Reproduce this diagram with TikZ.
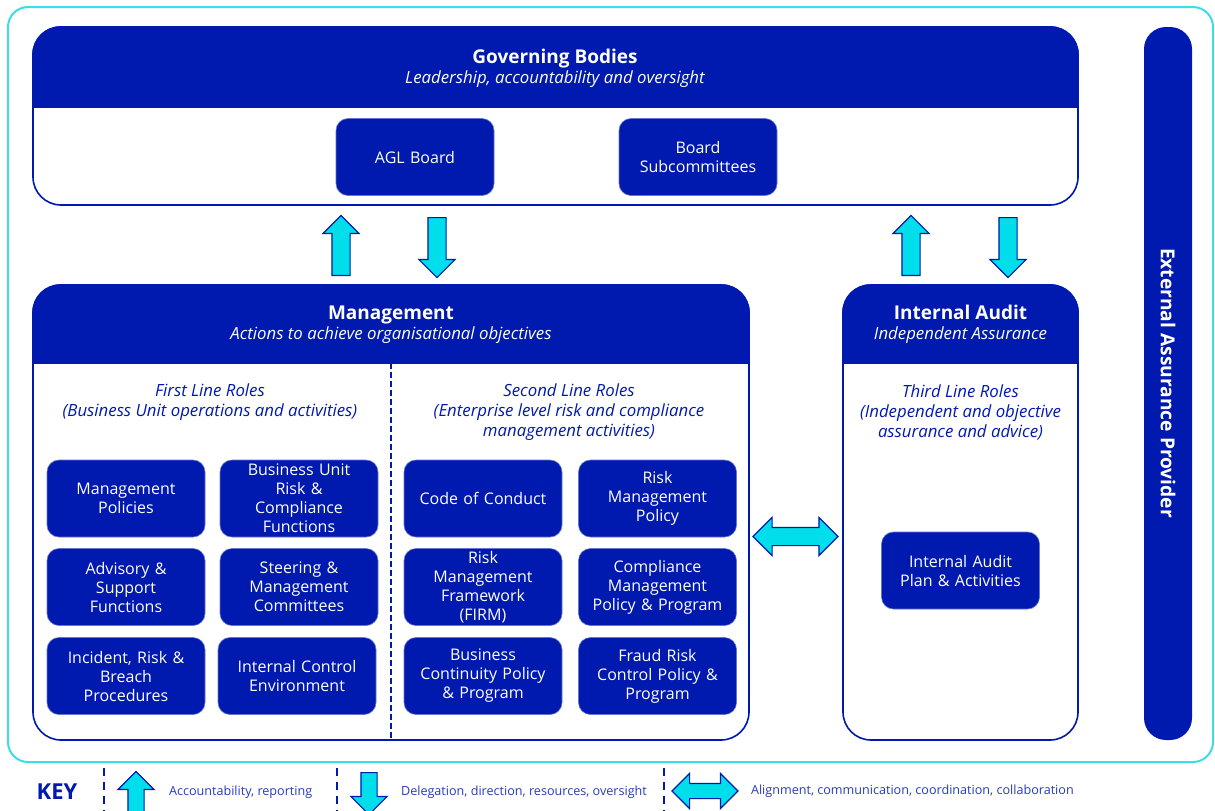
\documentclass[tikz,border=0pt]{standalone}
\usepackage{fontspec}
\setmainfont{Open Sans}
\usetikzlibrary{shapes.arrows,positioning,calc}
\definecolor{aglNavy}{HTML}{0019AF}
\definecolor{aglCyan}{HTML}{00DEEB}
\definecolor{aglRim}{HTML}{3CDCE8}

\begin{document}
\begin{tikzpicture}[x=0.5pt, y=-0.5pt,
    every node/.style={font=\fontsize{8}{9.5}\selectfont},
    panel/.style={draw=aglNavy, line width=0.8pt, fill=white, rounded corners=14pt, inner sep=0pt},
    htitle/.style={anchor=base, text=white, font=\bfseries\fontsize{9.5}{11}\selectfont},
    hsub/.style={anchor=base, text=white, font=\itshape\fontsize{8.4}{10}\selectfont},
    itembox/.style={fill=aglNavy, draw=aglNavy!60, line width=0.3pt, text=white, rounded corners=6pt,
                    minimum width=79pt, minimum height=38.5pt, text width=74pt, align=center, inner sep=1pt},
    role/.style={text=aglNavy, align=center, font=\itshape\fontsize{8.4}{10}\selectfont},
    blockarr/.style={single arrow, draw=aglNavy, fill=aglCyan, line width=0.6pt, inner sep=4.25pt,
                     minimum height=30pt, single arrow head extend=4.5pt, anchor=tail},
    uparr/.style={blockarr, shape border rotate=90},
    downarr/.style={blockarr, shape border rotate=270},
    twoarr/.style={double arrow, draw=aglNavy, fill=aglCyan, line width=0.6pt, inner sep=4.25pt,
                   minimum height=42.5pt, double arrow head extend=5pt},
    keytext/.style={anchor=west, text=aglNavy!85, font=\fontsize{6.3}{7.5}\selectfont},
    keysep/.style={draw=aglNavy, line width=0.8pt, dash pattern=on 4pt off 3pt},
  ]
  \useasboundingbox (0,0) rectangle (1215,810);

  % outer frame
  \draw[aglRim, line width=1pt, rounded corners=10pt] (8,7) rectangle (1213,762);

  % governing bodies
  \node[panel, minimum width=522.5pt, minimum height=89pt] (gov) at (555.5,116) {};
  \begin{scope}
    \clip (gov.north west) rectangle (gov.east |- 0,107);
    \fill[aglNavy, rounded corners=14pt] (gov.north west) rectangle (gov.south east);
  \end{scope}
  \node[htitle] (govt) at (555,63) {Governing Bodies};
  \node[hsub] (govs) at (555,83) {Leadership, accountability and oversight};
  \node[itembox] (board) at (415,157) {AGL Board};
  \node[itembox] (subc) at (698,157) {Board\\Subcommittees};

  % management
  \node[panel, minimum width=358pt, minimum height=227.5pt] (mgmt) at (391,512.5) {};
  \begin{scope}
    \clip (mgmt.north west) rectangle (mgmt.east |- 0,363);
    \fill[aglNavy, rounded corners=14pt] (mgmt.north west) rectangle (mgmt.south east);
  \end{scope}
  \node[htitle] (mgmtt) at (391,319) {Management};
  \node[hsub] (mgmts) at (391,339) {Actions to achieve organisational objectives};
  \draw[aglNavy, line width=0.8pt, dash pattern=on 3pt off 1.5pt] (391,363) -- (mgmt.south -| 391,0);

  \node[role] (first) at (210,402) {First Line Roles\\(Business Unit operations and activities)};
  \node[role] (second) at (569,412) {Second Line Roles\\(Enterprise level risk and compliance\\management activities)};

  \node[itembox] (mpol) at (126,498.5) {Management\\Policies};
  \node[itembox] (burc) at (299,498.5) {Business Unit\\Risk \&\\Compliance\\Functions};
  \node[itembox] (adv) at (126,587) {Advisory \&\\Support\\Functions};
  \node[itembox] (steer) at (299,587) {Steering \&\\Management\\Committees};
  \node[itembox] (incid) at (126,676) {Incident, Risk \&\\Breach\\Procedures};
  \node[itembox] (ictl) at (297,676) {Internal Control\\Environment};

  \node[itembox] (code) at (483,498.5) {Code of Conduct};
  \node[itembox] (rmp) at (657.5,498.5) {Risk\\Management\\Policy};
  \node[itembox] (firm) at (483,587) {Risk\\Management\\Framework\\(FIRM)};
  \node[itembox] (cmp) at (657.5,587) {Compliance\\Management\\Policy \& Program};
  \node[itembox] (bcp) at (483,676) {Business\\Continuity Policy\\\& Program};
  \node[itembox] (fraud) at (657.5,676) {Fraud Risk\\Control Policy \&\\Program};

  % internal audit
  \node[panel, minimum width=117.5pt, minimum height=227.5pt] (ia) at (960.5,512.5) {};
  \begin{scope}
    \clip (ia.north west) rectangle (ia.east |- 0,363);
    \fill[aglNavy, rounded corners=14pt] (ia.north west) rectangle (ia.south east);
  \end{scope}
  \node[htitle] (iat) at (960.5,319) {Internal Audit};
  \node[hsub] (ias) at (960.5,339) {Independent Assurance};
  \node[role] (third) at (960.5,412) {Third Line Roles\\(Independent and objective\\assurance and advice)};
  \node[itembox] (plan) at (960.5,570.5) {Internal Audit\\Plan \& Activities};

  % external assurance
  \fill[aglNavy, rounded corners=11pt] (1144,27) rectangle (1192,740);
  \node[rotate=-90, text=white, font=\bfseries\fontsize{9.6}{11}\selectfont] (ext) at (1168,383) {External Assurance Provider};

  % links
  \node[uparr] (up1) at (341,276) {};
  \node[downarr] (dn1) at (437,217) {};
  \node[uparr] (up2) at (911,276) {};
  \node[downarr] (dn2) at (1008,217) {};
  \node[twoarr] (both) at (795.5,536.5) {};

  % key
  \node[text=aglNavy, font=\bfseries\fontsize{11}{12}\selectfont] (key) at (57,792) {KEY};
  \draw[keysep] (104,768) -- (104,812);
  \node[uparr, minimum height=21pt, inner sep=3.75pt, single arrow head extend=5pt] (kup) at (136,814) {};
  \node[keytext] (kupt) at (162,792) {Accountability, reporting};
  \draw[keysep] (337,768) -- (337,812);
  \node[downarr, minimum height=21pt, inner sep=3.75pt, single arrow head extend=5pt] (kdn) at (369,772) {};
  \node[keytext] (kdnt) at (394,792) {Delegation, direction, resources, oversight};
  \draw[keysep] (664,768) -- (664,812);
  \node[twoarr, minimum height=33pt, inner sep=3.5pt, double arrow head extend=5pt] (kboth) at (705,791) {};
  \node[keytext] (kbotht) at (744,791) {Alignment, communication, coordination, collaboration};
\end{tikzpicture}
\end{document}
